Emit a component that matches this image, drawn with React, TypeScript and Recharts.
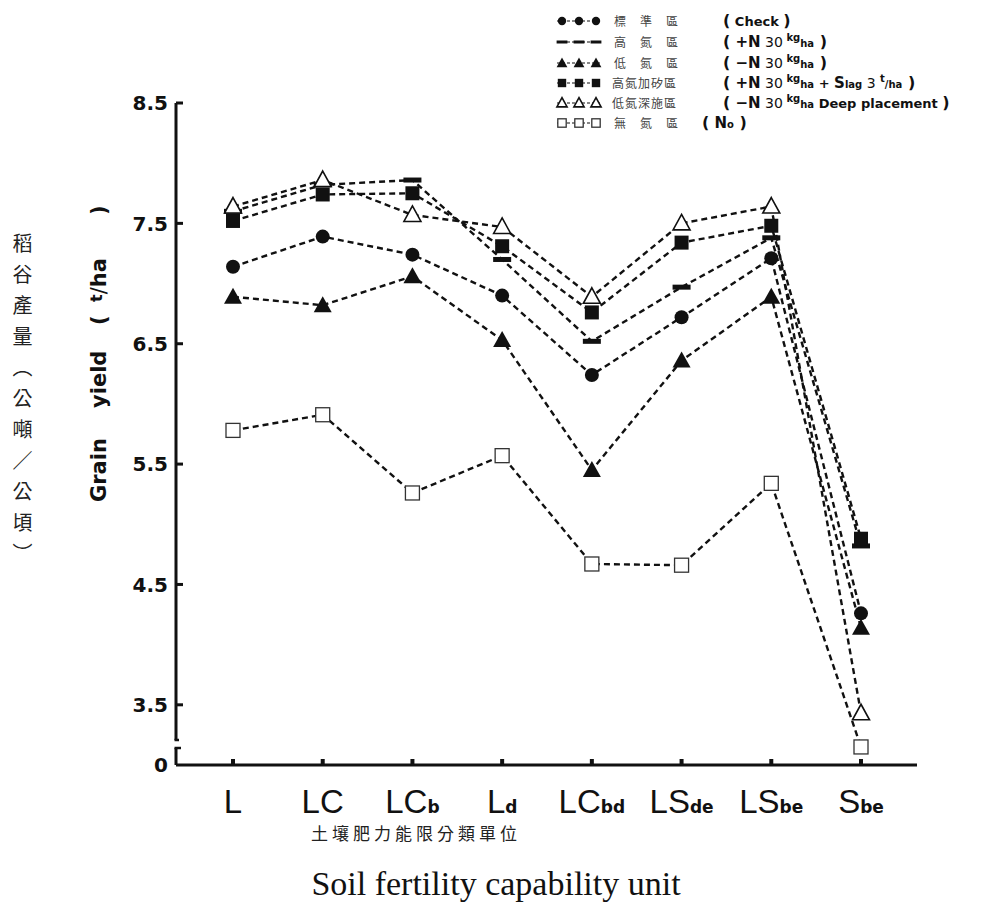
import React from 'react'
import { Line, LineChart, XAxis, YAxis } from 'recharts'

// soil fertility capability units
const categories = ['L', 'LC', 'LCb', 'Ld', 'LCbd', 'LSde', 'LSbe', 'Sbe']
const categoryMain = ['L', 'LC', 'LC', 'L', 'LC', 'LS', 'LS', 'S']
const categorySub = ['', '', 'b', 'd', 'bd', 'de', 'be', 'be']

// broken axis: bottom tick (3.0) is printed as 0
const yTicks = [3, 3.5, 4.5, 5.5, 6.5, 7.5, 8.5]
const yTickLabels = ['0', '3.5', '4.5', '5.5', '6.5', '7.5', '8.5']

// grain yield, t/ha
const checkYield = [7.14, 7.39, 7.24, 6.9, 6.24, 6.72, 7.21, 4.26]
const plusNYield = [7.6, 7.82, 7.86, 7.2, 6.52, 6.97, 7.38, 4.82]
const minusNYield = [6.89, 6.82, 7.06, 6.53, 5.45, 6.36, 6.89, 4.14]
const slagYield = [7.52, 7.74, 7.75, 7.31, 6.76, 7.34, 7.48, 4.88]
const deepYield = [7.64, 7.86, 7.57, 7.47, 6.89, 7.5, 7.64, 3.43]
const noNYield = [5.78, 5.91, 5.26, 5.57, 4.67, 4.66, 5.34, 3.15]

type Kind = 'circle' | 'dash' | 'triangle' | 'square' | 'openTriangle' | 'openSquare'

const series: { key: string; values: number[]; kind: Kind }[] = [
  { key: 'noN', values: noNYield, kind: 'openSquare' },
  { key: 'minusN', values: minusNYield, kind: 'triangle' },
  { key: 'check', values: checkYield, kind: 'circle' },
  { key: 'plusN', values: plusNYield, kind: 'dash' },
  { key: 'slag', values: slagYield, kind: 'square' },
  { key: 'deep', values: deepYield, kind: 'openTriangle' },
]

const data = categories.map((cat, i) => {
  const row: Record<string, string | number> = { cat }
  series.forEach((s) => {
    row[s.key] = s.values[i]
  })
  return row
})

type Part = [string, 'p' | 'N' | 'w' | 'n' | 'sup' | 'sub']

const legendKinds: Kind[] = ['circle', 'dash', 'triangle', 'square', 'openTriangle', 'openSquare']
const legendZh = [
  ['標', '準', '區'],
  ['高', '氮', '區'],
  ['低', '氮', '區'],
  ['高', '氮', '加', '矽', '區'],
  ['低', '氮', '深', '施', '區'],
  ['無', '氮', '區'],
]
const legendEn: Part[][] = [
  [['(', 'p'], [' Check ', 'w'], [')', 'p']],
  [['(', 'p'], [' +N', 'N'], [' 30', 'n'], [' kg', 'sup'], ['ha', 'sub'], [' )', 'p']],
  [['(', 'p'], [' −N', 'N'], [' 30', 'n'], [' kg', 'sup'], ['ha', 'sub'], [' )', 'p']],
  [
    ['(', 'p'], [' +N', 'N'], [' 30', 'n'], [' kg', 'sup'], ['ha', 'sub'], [' + ', 'w'],
    ['S', 'N'], ['lag', 'sub'], [' 3 ', 'n'], ['t', 'sup'], ['/ha', 'sub'], [' )', 'p'],
  ],
  [['(', 'p'], [' −N', 'N'], [' 30', 'n'], [' kg', 'sup'], ['ha', 'sub'], [' Deep placement ', 'w'], [')', 'p']],
  [['(', 'p'], [' N', 'N'], ['o', 'sub'], [' )', 'p']],
]

const INK = '#111'
const SANS = '"DejaVu Sans", sans-serif'

function Marker({ cx, cy, kind, s = 1 }: { cx?: number; cy?: number; kind: Kind; s?: number }) {
  if (cx == null || cy == null) return null
  switch (kind) {
    case 'circle':
      return <circle cx={cx} cy={cy} r={7 * s} fill={INK} />
    case 'dash':
      return <rect x={cx - 9 * s} y={cy - 2.5 * s} width={18 * s} height={5 * s} fill={INK} />
    case 'triangle':
      return (
        <polygon
          points={`${cx},${cy - 9 * s} ${cx + 9 * s},${cy + 7 * s} ${cx - 9 * s},${cy + 7 * s}`}
          fill={INK}
        />
      )
    case 'square':
      return <rect x={cx - 7 * s} y={cy - 7 * s} width={14 * s} height={14 * s} fill={INK} />
    case 'openTriangle':
      return (
        <polygon
          points={`${cx},${cy - 9 * s} ${cx + 8.5 * s},${cy + 6.5 * s} ${cx - 8.5 * s},${cy + 6.5 * s}`}
          fill="#fff"
          stroke={INK}
          strokeWidth={1.6}
        />
      )
    case 'openSquare':
      return (
        <rect x={cx - 7 * s} y={cy - 7 * s} width={14 * s} height={14 * s} fill="#fff" stroke="#333" strokeWidth={1.3} />
      )
  }
  return null
}

function YTick(props: any) {
  const { x, y, payload } = props
  const label = yTickLabels[yTicks.indexOf(payload.value)]
  const isBreak = payload.value === yTicks[0]
  return (
    <g>
      {isBreak ? (
        <g>
          <rect x={x - 4} y={y - 25} width={8} height={8} fill="#fff" />
          <line x1={x - 1.5} y1={y - 25} x2={x + 3} y2={y - 25} stroke={INK} strokeWidth={2.5} />
          <line x1={x - 1.5} y1={y - 17} x2={x + 5} y2={y - 17} stroke={INK} strokeWidth={2.5} />
        </g>
      ) : (
        <line x1={x} y1={y} x2={x + 7} y2={y} stroke={INK} strokeWidth={3} />
      )}
      <text
        x={x - 8}
        y={y}
        dy="0.36em"
        textAnchor="end"
        fontFamily={SANS}
        fontWeight="bold"
        fontSize={20}
        fill={INK}
      >
        {label}
      </text>
    </g>
  )
}

function XTick(props: any) {
  const { x, y, payload } = props
  const i = categories.indexOf(payload.value)
  return (
    <g>
      <rect x={x - 2} y={y - 6} width={4} height={6} fill={INK} />
      <text x={x} y={y + 48} textAnchor="middle" fontFamily='"Liberation Sans", sans-serif' fontSize={33} fill={INK}>
        {categoryMain[i]}
        <tspan fontFamily={SANS} fontWeight="bold" fontSize={17}>
          {categorySub[i]}
        </tspan>
      </text>
    </g>
  )
}

const partStyle: Record<Part[1], { size: number; weight: string; rise: number }> = {
  p: { size: 16, weight: 'bold', rise: 0 },
  N: { size: 15, weight: 'bold', rise: 0 },
  w: { size: 13, weight: 'bold', rise: 0 },
  n: { size: 14, weight: 'normal', rise: 0 },
  sup: { size: 10, weight: 'bold', rise: -6 },
  sub: { size: 10, weight: 'bold', rise: 0 },
}

function LegendBlock() {
  const rowY = [21, 42, 63, 83, 103, 123]
  return (
    <svg
      width={431}
      height={140}
      style={{ position: 'absolute', left: 550, top: 0, overflow: 'visible' }}
    >
      {legendKinds.map((kind, r) => {
        const y = rowY[r]
        const zh = legendZh[r]
        const zhX = zh.length === 3 ? [70, 96, 122] : [68, 81, 94, 107, 120]
        let rise = 0
        return (
          <g key={r}>
            <line x1={7} y1={y} x2={50} y2={y} stroke={INK} strokeWidth={1.2} strokeDasharray="3 2" />
            {[12, 29, 46].map((mx) => (
              <Marker key={mx} cx={mx} cy={y} kind={kind} s={0.6} />
            ))}
            {zh.map((ch, k) => (
              <text
                key={k}
                x={zhX[k]}
                y={y + 4.5}
                textAnchor="middle"
                fontFamily='"Noto Sans CJK TC", sans-serif'
                fontSize={12}
                fill="#444"
              >
                {ch}
              </text>
            ))}
            <text x={r === 5 ? 152 : 173} y={y + 5} fontFamily={SANS} fill={INK} style={{ whiteSpace: 'pre' }}>
              {legendEn[r].map(([t, st], k) => {
                const ps = partStyle[st]
                const dy = ps.rise - rise
                rise = ps.rise
                return (
                  <tspan key={k} dy={dy} fontSize={ps.size} fontWeight={ps.weight}>
                    {t}
                  </tspan>
                )
              })}
            </text>
          </g>
        )
      })}
    </svg>
  )
}

export default function App() {
  return (
    <div style={{ position: 'absolute', left: 0, top: 0, width: 981, height: 922, background: '#fff' }}>
      <LineChart width={981} height={922} data={data} margin={{ top: 103, right: 64, bottom: 0, left: 0 }}>
        <XAxis
          dataKey="cat"
          type="category"
          padding={{ left: 57, right: 56 }}
          height={157}
          tickSize={0}
          tickMargin={0}
          tickLine={false}
          interval={0}
          tick={(p: any) => <XTick {...p} />}
          axisLine={{ stroke: INK, strokeWidth: 3 }}
        />
        <YAxis
          type="number"
          domain={[3, 8.5]}
          ticks={yTicks}
          interval={0}
          width={176}
          tickSize={0}
          tickMargin={0}
          tickLine={false}
          allowDataOverflow
          tick={(p: any) => <YTick {...p} />}
          axisLine={{ stroke: INK, strokeWidth: 3 }}
        />
        {series.map((s) => (
          <Line
            key={s.key}
            dataKey={s.key}
            type="linear"
            stroke={INK}
            strokeWidth={2.4}
            strokeDasharray="6 4"
            isAnimationActive={false}
            activeDot={false}
            dot={(p: any) => <Marker key={`${s.key}-${p.index}`} cx={p.cx} cy={p.cy} kind={s.kind} />}
          />
        ))}
      </LineChart>

      <LegendBlock />

      <div
        style={{
          position: 'absolute',
          left: 12,
          top: 233,
          writingMode: 'vertical-rl',
          textOrientation: 'upright',
          fontFamily: '"Noto Sans CJK TC", sans-serif',
          fontSize: 20,
          letterSpacing: 11,
          color: '#222',
          lineHeight: 1,
        }}
      >
        稻谷產量︵公噸／公頃︶
      </div>

      <svg width={981} height={922} style={{ position: 'absolute', left: 0, top: 0, pointerEvents: 'none' }}>
        <text transform="translate(106,502) rotate(-90)" fontFamily={SANS} fontWeight="bold" fontSize={21} fill={INK}>
          <tspan x={0}>Grain</tspan>
          <tspan x={94}>yield</tspan>
          <tspan x={177}>(</tspan>
          <tspan x={200} dy={-4} fontSize={16}>t</tspan>
          <tspan dy={4} fontWeight="normal">/</tspan>
          <tspan>ha</tspan>
          <tspan x={287}>)</tspan>
        </text>
        <text
          x={311}
          y={840}
          fontFamily='"Noto Sans CJK TC", sans-serif'
          fontSize={17}
          letterSpacing={4}
          fill="#222"
        >
          土壤肥力能限分類單位
        </text>
        <text x={496} y={895} textAnchor="middle" fontFamily='"Liberation Serif", serif' fontSize={34} fill={INK}>
          Soil fertility capability unit
        </text>
      </svg>
    </div>
  )
}
